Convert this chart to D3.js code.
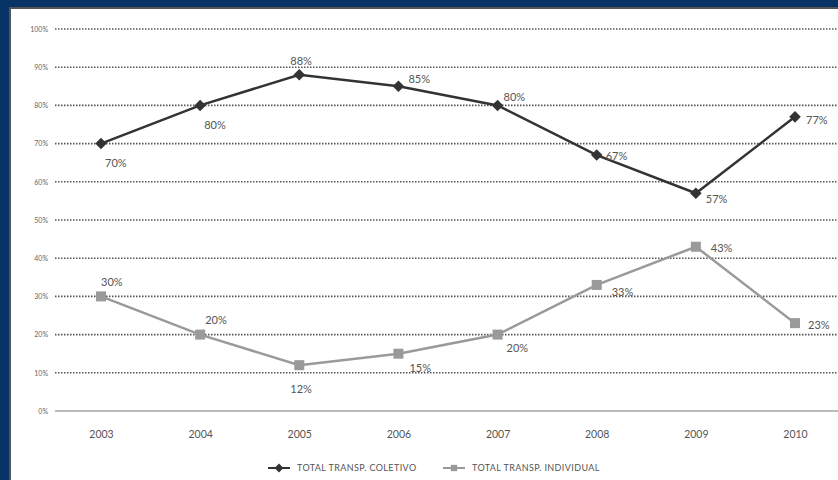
<!DOCTYPE html>
<html>
<head>
<meta charset="utf-8">
<script src="https://cdn.jsdelivr.net/npm/d3@7"></script>
<style>
body { margin: 0; background: #fff; }
svg { display: block; font-family: "Lato", "Open Sans", sans-serif; }
</style>
</head>
<body>
<svg width="838" height="480"></svg>
<script>
var years = ["2003", "2004", "2005", "2006", "2007", "2008", "2009", "2010"];
var coletivo = [70, 80, 88, 85, 80, 67, 57, 77];
var individual = [30, 20, 12, 15, 20, 33, 43, 23];
var yTicks = [0, 10, 20, 30, 40, 50, 60, 70, 80, 90, 100];
var seriesNames = ["TOTAL TRANSP. COLETIVO", "TOTAL TRANSP. INDIVIDUAL"];

// where each value label sits relative to its point: [dx, dy]
var coletivoLabelPos = [[4, 20], [4, 20], [-9, -14], [10, -7], [6, -8], [9, 1], [10, 6], [11, 3]];
var individualLabelPos = [[0, -14], [5, -14], [-9, 24], [11, 14], [9, 14], [15, 7], [15, 1], [13, 2]];

var svg = d3.select("svg"),
    width = +svg.attr("width"),
    height = +svg.attr("height");

// navy frame
svg.append("rect").attr("width", width).attr("height", height).attr("fill", "#073366");
svg.append("rect").attr("x", 9).attr("y", 7).attr("width", width).attr("height", height).attr("fill", "#555");
svg.append("rect").attr("x", 11).attr("y", 9).attr("width", width).attr("height", height).attr("fill", "#fff");

var x = d3.scalePoint().domain(years).range([101, 795]);
var y = d3.scaleLinear().domain([0, 100]).range([411, 29]);

// grid lines
svg.append("g").selectAll("line")
  .data(yTicks)
  .enter().append("line")
    .attr("x1", 55).attr("x2", width)
    .attr("y1", function(d) { return y(d); })
    .attr("y2", function(d) { return y(d); })
    .attr("stroke", function(d) { return d === 0 ? "#bbb" : "#555"; })
    .attr("stroke-width", function(d) { return d === 0 ? 2 : 1.6; })
    .attr("stroke-dasharray", function(d) { return d === 0 ? null : "1.5,1.5"; });

// y labels
var yAxis = svg.append("g")
  .attr("transform", "translate(48,0)")
  .call(d3.axisLeft(y).tickValues(yTicks).tickSize(0).tickPadding(0)
    .tickFormat(function(d) { return d + "%"; }));
yAxis.select(".domain").remove();
yAxis.selectAll("text").attr("fill", "#666").style("font-size", "7px").style("font-family", "Lato, sans-serif");

// x labels
var xAxis = svg.append("g")
  .attr("transform", "translate(0,431)")
  .call(d3.axisBottom(x).tickSize(0).tickPadding(0));
xAxis.select(".domain").remove();
xAxis.selectAll("text").attr("fill", "#555").style("font-size", "10.5px").style("font-family", "Lato, sans-serif");

var line = d3.line()
  .x(function(d, i) { return x(years[i]); })
  .y(function(d) { return y(d); });

var diamond = d3.symbol().type(d3.symbolDiamond2).size(85);

function drawSeries(values, color, width, marker, labelPos) {
  var g = svg.append("g");
  g.append("path")
    .datum(values)
    .attr("d", line)
    .attr("fill", "none")
    .attr("stroke", color)
    .attr("stroke-width", width);

  if (marker === "diamond") {
    g.selectAll(".pt").data(values).enter().append("path")
      .attr("class", "pt")
      .attr("d", diamond)
      .attr("transform", function(d, i) { return "translate(" + x(years[i]) + "," + y(d) + ")"; })
      .attr("fill", color);
  } else {
    g.selectAll(".pt").data(values).enter().append("rect")
      .attr("class", "pt")
      .attr("x", function(d, i) { return x(years[i]) - 5; })
      .attr("y", function(d) { return y(d) - 5; })
      .attr("width", 10).attr("height", 10)
      .attr("fill", color);
  }

  g.selectAll(".lbl").data(values).enter().append("text")
    .attr("class", "lbl")
    .attr("x", function(d, i) { return x(years[i]) + labelPos[i][0]; })
    .attr("y", function(d, i) { return y(d) + labelPos[i][1]; })
    .attr("dy", "0.35em")
    .attr("fill", "#555")
    .style("font-size", "11px")
    .text(function(d) { return d + "%"; });
}

drawSeries(coletivo, "#333", 2.5, "diamond", coletivoLabelPos);
drawSeries(individual, "#9a9a9a", 2.5, "square", individualLabelPos);

// legend
var legend = svg.selectAll(".legend")
  .data(seriesNames)
  .enter().append("g")
    .attr("class", "legend")
    .attr("transform", function(d, i) { return "translate(" + (268 + i * 175) + ",468)"; });

legend.append("line")
  .attr("x1", 0).attr("x2", 22)
  .attr("stroke", function(d, i) { return i === 0 ? "#333" : "#9a9a9a"; })
  .attr("stroke-width", 2);

legend.append("path")
  .attr("d", function(d, i) {
    return i === 0 ? d3.symbol().type(d3.symbolDiamond2).size(50)() : d3.symbol().type(d3.symbolSquare).size(40)();
  })
  .attr("transform", "translate(11,0)")
  .attr("fill", function(d, i) { return i === 0 ? "#333" : "#9a9a9a"; });

legend.append("text")
  .attr("x", 29)
  .attr("dy", "0.35em")
  .attr("fill", "#555")
  .style("font-size", "9px")
  .style("letter-spacing", "0.4px")
  .text(function(d) { return d; });
</script>
</body>
</html>
